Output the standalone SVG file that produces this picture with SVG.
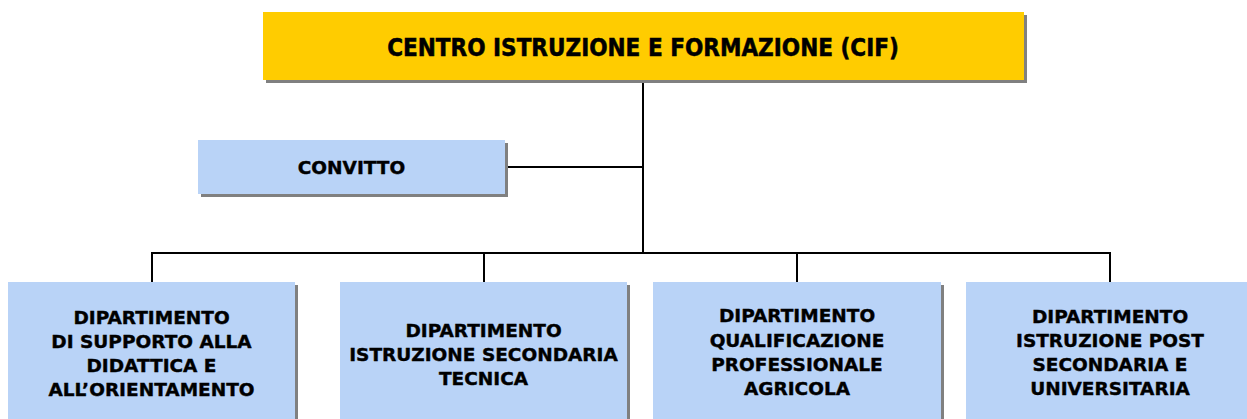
<svg xmlns="http://www.w3.org/2000/svg" width="1247" height="419" viewBox="0 0 1247 419">
<style>
.shadow{fill:#808080}
.yellow{fill:#FFCC00}
.blue{fill:#B9D3F7}
.t{font-family:"DejaVu Sans","Verdana",sans-serif;font-weight:bold;font-size:18.5px;fill:#000;stroke:#000;stroke-width:0.4;text-anchor:middle}
.title{font-family:"DejaVu Sans Condensed","DejaVu Sans",sans-serif;font-stretch:condensed;font-weight:bold;font-size:24px;fill:#000;stroke:#000;stroke-width:0.5;text-anchor:middle}
.c{stroke:#000;stroke-width:2;fill:none}
</style>
<rect width="1247" height="419" fill="#fff"/>
<g id="connectors">
<line class="c" x1="643" y1="80" x2="643" y2="254" stroke-width="3"/>
<line class="c" x1="507" y1="167" x2="643" y2="167"/>
<polyline class="c" points="152,282 152,253 1110,253 1110,282"/>
<line class="c" x1="484" y1="253" x2="484" y2="282"/>
<line class="c" x1="797" y1="253" x2="797" y2="282"/>
</g>
<g id="cif">
<rect class="shadow" x="266" y="15" width="761" height="68"/>
<rect class="yellow" x="263" y="12" width="761" height="68"/>
<text class="title" x="643" y="56">CENTRO ISTRUZIONE E FORMAZIONE (CIF)</text>
</g>
<g id="convitto">
<rect class="shadow" x="201" y="143" width="307" height="54"/>
<rect class="blue" x="198" y="140" width="307" height="54"/>
<text class="t" x="351.5" y="174">CONVITTO</text>
</g>
<g id="dip1">
<rect class="shadow" x="11" y="285" width="287" height="140"/>
<rect class="blue" x="8" y="282" width="287" height="140"/>
<text class="t" x="151.5" y="324">DIPARTIMENTO</text>
<text class="t" x="151.5" y="348">DI SUPPORTO ALLA</text>
<text class="t" x="151.5" y="372">DIDATTICA E</text>
<text class="t" x="151.5" y="396">ALL’ORIENTAMENTO</text>
</g>
<g id="dip2">
<rect class="shadow" x="343" y="285" width="287" height="140"/>
<rect class="blue" x="340" y="282" width="287" height="140"/>
<text class="t" x="483.5" y="337">DIPARTIMENTO</text>
<text class="t" x="483.5" y="361">ISTRUZIONE SECONDARIA</text>
<text class="t" x="483.5" y="384.5">TECNICA</text>
</g>
<g id="dip3">
<rect class="shadow" x="656" y="285" width="288" height="140"/>
<rect class="blue" x="653" y="282" width="288" height="140"/>
<text class="t" x="797" y="322">DIPARTIMENTO</text>
<text class="t" x="797" y="347">QUALIFICAZIONE</text>
<text class="t" x="797" y="371">PROFESSIONALE</text>
<text class="t" x="797" y="395">AGRICOLA</text>
</g>
<g id="dip4">
<rect class="blue" x="966" y="282" width="290" height="140"/>
<text class="t" x="1110" y="323">DIPARTIMENTO</text>
<text class="t" x="1110" y="347">ISTRUZIONE POST</text>
<text class="t" x="1110" y="371">SECONDARIA E</text>
<text class="t" x="1110" y="395">UNIVERSITARIA</text>
</g>
</svg>
